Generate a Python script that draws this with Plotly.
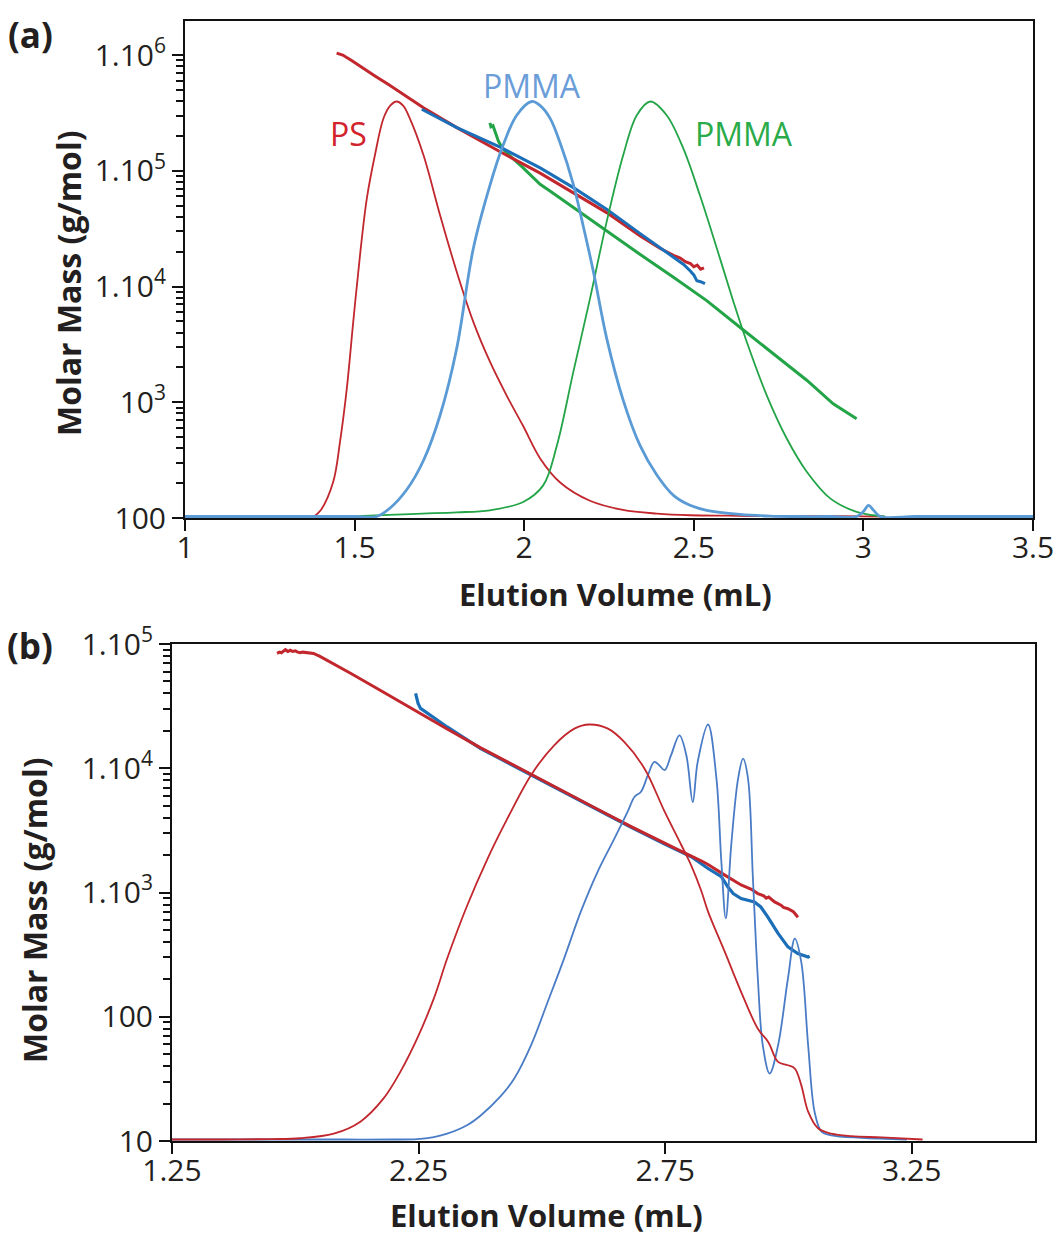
import plotly.graph_objects as go

W, H = 1061, 1247
FONT = "Open Sans"
TXT = "#231f20"

# ---------------- Panel (a) data ----------------
# Detector response (normalised) vs elution volume (mL)
ps_dist_x = [1.38, 1.40, 1.437, 1.457, 1.477, 1.496, 1.516, 1.536, 1.560, 1.585, 1.605, 1.624, 1.643,
             1.663, 1.703, 1.752, 1.801, 1.850, 1.899, 1.948, 1.997, 2.047, 2.106, 2.194, 2.291,
             2.391, 2.489, 2.60, 2.70, 2.80, 2.90, 3.00, 3.06]
ps_dist_s = [0, 0.015, 0.084, 0.18, 0.308, 0.469, 0.63, 0.766, 0.871, 0.959, 0.99, 1.0, 0.99,
             0.959, 0.871, 0.726, 0.59, 0.469, 0.373, 0.292, 0.218, 0.14, 0.082, 0.038, 0.016,
             0.007, 0.003, 0.002, 0.001, 0.001, 0.001, 0.0005, 0]

pmma1_dist_x = [1.0, 1.1, 1.2, 1.3, 1.4, 1.5, 1.565, 1.604, 1.654, 1.703, 1.752, 1.801, 1.850,
                1.899, 1.938, 1.978, 2.022, 2.047, 2.076, 2.106, 2.145, 2.174, 2.204, 2.243, 2.292,
                2.341, 2.391, 2.440, 2.489, 2.538, 2.636, 2.725, 2.80, 2.90, 2.980, 3.000, 3.015,
                3.030, 3.050, 3.15, 3.25, 3.35, 3.5]
pmma1_dist_s = [0, 0, 0, 0, 0, 0, 0, 0.02, 0.065, 0.135, 0.244, 0.405, 0.646,
                0.798, 0.895, 0.967, 1.0, 0.99, 0.96, 0.90, 0.80, 0.70, 0.59, 0.43, 0.28,
                0.172, 0.10, 0.051, 0.027, 0.015, 0.005, 0.001, 0, 0, 0, 0.012, 0.027,
                0.015, 0, 0, 0, 0, 0]

pmma2_dist_x = [1.49, 1.60, 1.70, 1.801, 1.899, 1.997, 2.056, 2.096, 2.145, 2.194, 2.243, 2.292,
                2.332, 2.372, 2.420, 2.469, 2.518, 2.568, 2.617, 2.656, 2.715, 2.774, 2.833,
                2.903, 2.980, 3.029, 3.064]
pmma2_dist_s = [0, 0.004, 0.007, 0.01, 0.015, 0.035, 0.075, 0.17, 0.349, 0.525, 0.71, 0.871,
                0.967, 1.0, 0.967, 0.887, 0.774, 0.646, 0.517, 0.421, 0.292, 0.188, 0.108,
                0.043, 0.011, 0.003, 0]

# Molar mass (g/mol) vs elution volume
ps_mm_x = [1.447, 1.465, 1.49, 1.52, 1.56, 1.60, 1.65, 1.703, 1.80, 1.929, 2.047, 2.145, 2.243,
           2.341, 2.40, 2.44, 2.46, 2.475, 2.49, 2.50, 2.51, 2.52, 2.53]
ps_mm_m = [1.04e6, 1.0e6, 9.0e5, 7.85e5, 6.6e5, 5.56e5, 4.42e5, 3.5e5, 2.37e5, 1.46e5, 9.55e4,
           6.46e4, 4.35e4, 2.75e4, 2.14e4, 1.86e4, 1.76e4, 1.64e4, 1.58e4, 1.48e4, 1.53e4,
           1.41e4, 1.45e4]

pmma1_mm_x = [1.698, 1.75, 1.80, 1.929, 2.047, 2.145, 2.243, 2.341, 2.44, 2.47, 2.489, 2.50,
              2.509, 2.52, 2.533]
pmma1_mm_m = [3.4e5, 2.85e5, 2.37e5, 1.6e5, 1.06e5, 7.15e4, 4.66e4, 2.88e4, 1.8e4, 1.55e4,
              1.37e4, 1.26e4, 1.12e4, 1.1e4, 1.06e4]

pmma2_mm_x = [1.899, 1.902, 1.908, 1.914, 1.919, 1.924, 1.935, 1.948, 1.997, 2.047, 2.076, 2.145,
              2.243, 2.341, 2.440, 2.538, 2.636, 2.734, 2.833, 2.911, 2.94, 2.960, 2.980]
pmma2_mm_m = [2.59e5, 2.4e5, 2.45e5, 2.14e5, 2.0e5, 1.8e5, 1.58e5, 1.43e5, 1.06e5, 7.64e4,
              6.68e4, 4.8e4, 3.03e4, 1.9e4, 1.2e4, 7.55e3, 4.45e3, 2.62e3, 1.55e3, 9.7e2,
              8.5e2, 7.9e2, 7.2e2]

# ---------------- Panel (b) data ----------------
ps_b_dist_x = [1.75, 1.85, 1.95, 2.010, 2.078, 2.132, 2.179, 2.213, 2.247, 2.281, 2.308, 2.349,
               2.390, 2.430, 2.478, 2.525, 2.566, 2.596, 2.634, 2.667, 2.708, 2.749, 2.783, 2.803,
               2.823, 2.837, 2.871, 2.904, 2.938, 2.959, 2.979, 2.999, 3.013, 3.026, 3.040, 3.060,
               3.087, 3.128, 3.189, 3.272]
ps_b_dist_s = [0, 0, 0.001, 0.003, 0.014, 0.043, 0.099, 0.163, 0.243, 0.34, 0.436, 0.565,
               0.677, 0.773, 0.878, 0.95, 0.99, 1.0, 0.99, 0.958, 0.894, 0.79, 0.709, 0.66,
               0.60, 0.549, 0.452, 0.356, 0.267, 0.235, 0.187, 0.179, 0.171, 0.131, 0.067, 0.027,
               0.014, 0.008, 0.005, 0]

pmma_b_dist_x = [1.75, 1.90, 2.00, 2.10, 2.20, 2.247, 2.281, 2.308, 2.349, 2.376, 2.417, 2.444,
                 2.478, 2.512, 2.545, 2.579, 2.613, 2.647, 2.674, 2.688, 2.701, 2.715, 2.728,
                 2.738, 2.749, 2.762, 2.779, 2.793, 2.806, 2.816, 2.837, 2.854, 2.864, 2.873,
                 2.884, 2.898, 2.908, 2.918, 2.928, 2.938, 2.948, 2.962, 2.979, 2.999, 3.013,
                 3.026, 3.040, 3.053, 3.067, 3.087, 3.148, 3.240]
pmma_b_dist_s = [0, 0, 0, 0, 0, 0.001, 0.006, 0.014, 0.035, 0.058, 0.105, 0.147,
                 0.227, 0.332, 0.436, 0.549, 0.645, 0.725, 0.79, 0.826, 0.838, 0.878, 0.91,
                 0.902, 0.89, 0.926, 0.974, 0.926, 0.813, 0.91, 1.0, 0.87, 0.669, 0.533,
                 0.709, 0.87, 0.918, 0.87, 0.629, 0.388, 0.227, 0.159, 0.227, 0.388, 0.484,
                 0.428, 0.227, 0.067, 0.019, 0.01, 0.004, 0]

ps_b_mm_x = [1.963, 1.968, 1.972, 1.976, 1.980, 1.985, 1.990, 1.995, 2.000, 2.005, 2.010, 2.015,
             2.020, 2.027, 2.037, 2.050, 2.064, 2.112, 2.173, 2.240, 2.308, 2.376, 2.444, 2.481,
             2.545, 2.613, 2.681, 2.749, 2.783, 2.823, 2.837, 2.871, 2.904, 2.925, 2.938, 2.950,
             2.955, 2.960, 2.972, 2.985, 2.990, 2.999, 3.010, 3.016, 3.019]
ps_b_mm_m = [8.4e4, 8.6e4, 8.5e4, 8.8e4, 9.0e4, 8.7e4, 8.9e4, 8.7e4, 8.8e4, 8.6e4, 8.5e4, 8.6e4,
             8.55e4, 8.4e4, 8.4e4, 7.94e4, 7.41e4, 5.82e4, 4.22e4, 2.95e4, 2.07e4, 1.46e4,
             1.05e4, 8.8e3, 6.46e3, 4.68e3, 3.39e3, 2.48e3, 2.14e3, 1.8e3, 1.68e3, 1.38e3,
             1.15e3, 1.06e3, 9.8e2, 9.4e2, 9.0e2, 9.2e2, 8.4e2, 7.9e2, 7.6e2, 7.4e2, 7.0e2,
             6.56e2, 6.3e2]

pmma_b_mm_x = [2.244, 2.246, 2.249, 2.254, 2.268, 2.288, 2.308, 2.376, 2.444, 2.545, 2.613, 2.681,
               2.749, 2.803, 2.837, 2.864, 2.877, 2.888, 2.904, 2.931, 2.944, 2.958, 2.979,
               2.999, 3.019, 3.040, 3.043]
pmma_b_mm_m = [4.0e4, 3.65e4, 3.33e4, 3.03e4, 2.76e4, 2.44e4, 2.15e4, 1.44e4, 1.04e4, 6.38e3,
               4.62e3, 3.35e3, 2.45e3, 1.94e3, 1.56e3, 1.34e3, 1.11e3, 9.8e2, 8.95e2, 8.4e2,
               7.65e2, 6.37e2, 4.68e2, 3.65e2, 3.23e2, 3.03e2, 3.07e2]

# tick labels
a_xticks = [1, 1.5, 2, 2.5, 3, 3.5]
a_xticktext = ["1", "1.5", "2", "2.5", "3", "3.5"]
a_yticks = [1e2, 1e3, 1e4, 1e5, 1e6]
a_yticktext = ["100", "10<sup>3</sup>", "1.10<sup>4</sup>", "1.10<sup>5</sup>", "1.10<sup>6</sup>"]
b_xticks = [1.75, 2.25, 2.75, 3.25]
b_xticktext = ["1.25", "2.25", "2.75", "3.25"]
b_yticks = [1e1, 1e2, 1e3, 1e4, 1e5]
b_yticktext = ["10", "100", "1.10<sup>3</sup>", "1.10<sup>4</sup>", "1.10<sup>5</sup>"]

a_minor = [k * 10 ** d for d in range(2, 6) for k in range(2, 10)]
b_minor = [k * 10 ** d for d in range(1, 5) for k in range(2, 10)]

# colours
RED = "#c1272d"
BLUE_L = "#5b9bd5"
BLUE_D = "#1b6fb8"
GREEN = "#22a447"
BLUE_B = "#4a7cc6"

SM = 1.0
fig = go.Figure()

# panel (a) distributions (linear hidden axis y3)
fig.add_trace(go.Scatter(x=ps_dist_x, y=ps_dist_s, xaxis="x", yaxis="y3", mode="lines",
                         line=dict(color=RED, width=1.8, shape="spline", smoothing=SM)))
fig.add_trace(go.Scatter(x=pmma2_dist_x, y=pmma2_dist_s, xaxis="x", yaxis="y3", mode="lines",
                         line=dict(color=GREEN, width=1.8, shape="spline", smoothing=SM)))
fig.add_trace(go.Scatter(x=pmma1_dist_x, y=pmma1_dist_s, xaxis="x", yaxis="y3", mode="lines",
                         line=dict(color=BLUE_L, width=2.8, shape="spline", smoothing=SM)))
# panel (a) molar mass
fig.add_trace(go.Scatter(x=pmma2_mm_x, y=pmma2_mm_m, xaxis="x", yaxis="y", mode="lines",
                         line=dict(color=GREEN, width=3)))
fig.add_trace(go.Scatter(x=ps_mm_x, y=ps_mm_m, xaxis="x", yaxis="y", mode="lines",
                         line=dict(color=RED, width=3)))
fig.add_trace(go.Scatter(x=pmma1_mm_x, y=pmma1_mm_m, xaxis="x", yaxis="y", mode="lines",
                         line=dict(color=BLUE_D, width=3)))

# panel (b) distributions (hidden axis y4)
fig.add_trace(go.Scatter(x=pmma_b_dist_x, y=pmma_b_dist_s, xaxis="x2", yaxis="y4", mode="lines",
                         line=dict(color=BLUE_B, width=1.8, shape="spline", smoothing=SM)))
fig.add_trace(go.Scatter(x=ps_b_dist_x, y=ps_b_dist_s, xaxis="x2", yaxis="y4", mode="lines",
                         line=dict(color=RED, width=1.8, shape="spline", smoothing=SM)))
# panel (b) molar mass
fig.add_trace(go.Scatter(x=pmma_b_mm_x, y=pmma_b_mm_m, xaxis="x2", yaxis="y2", mode="lines",
                         line=dict(color=BLUE_D, width=3.2)))
fig.add_trace(go.Scatter(x=ps_b_mm_x, y=ps_b_mm_m, xaxis="x2", yaxis="y2", mode="lines",
                         line=dict(color=RED, width=3)))

tickfont = dict(family=FONT, size=30, color=TXT)
common_x = dict(showgrid=False, zeroline=False, showline=True, linecolor="#111", linewidth=2,
                mirror=True, ticks="outside", ticklen=11, tickwidth=1.5, tickcolor="#111",
                tickfont=tickfont, tickmode="array", layer="below traces", automargin=False,
                ticklabelstandoff=-9)
common_y = dict(showgrid=False, zeroline=False, showline=True, linecolor="#111", linewidth=2,
                mirror=True, ticks="outside", ticklen=11, tickwidth=1.5, tickcolor="#111",
                tickfont=tickfont, tickmode="array", type="log", automargin=False)

def px(x):
    return x / W

def py(y):
    return 1 - y / H

DIST_RANGE = [-0.0036, 1.194]

fig.update_layout(
    template="none",
    width=W, height=H, margin=dict(l=0, r=0, t=0, b=0, pad=0), autosize=False,
    paper_bgcolor="white", plot_bgcolor="white", showlegend=False,
    font=dict(family=FONT, color=TXT),
    xaxis=dict(domain=[px(185), px(1033)], anchor="y", range=[1, 3.5],
               tickvals=a_xticks, ticktext=a_xticktext, **common_x),
    yaxis=dict(domain=[py(518), py(21)], anchor="x", range=[2, 6.294],
               tickvals=a_yticks, ticktext=a_yticktext,
               minor=dict(tickmode="array", tickvals=a_minor, ticks="outside", ticklen=7,
                          tickwidth=1.5, tickcolor="#111", showgrid=False),
               **common_y),
    yaxis3=dict(overlaying="y", anchor="x", range=DIST_RANGE, visible=False, automargin=False),
    xaxis2=dict(domain=[px(172), px(1035)], anchor="y2", range=[1.75, 3.5],
                tickvals=b_xticks, ticktext=b_xticktext, **common_x),
    yaxis2=dict(domain=[py(1141), py(644)], anchor="x2", range=[1, 5.0],
                tickvals=b_yticks, ticktext=b_yticktext,
                minor=dict(tickmode="array", tickvals=b_minor, ticks="outside", ticklen=7,
                           tickwidth=1.5, tickcolor="#111", showgrid=False),
                **common_y),
    yaxis4=dict(overlaying="y2", anchor="x2", range=DIST_RANGE, visible=False, automargin=False),
)

annots = [
    dict(text="<b>(a)</b>", x=px(30), y=py(35), size=35, color=TXT, angle=0),
    dict(text="<b>(b)</b>", x=px(30), y=py(645), size=35, color=TXT, angle=0),
    dict(text="<b>Elution Volume (mL)</b>", x=px(615), y=py(594), size=31, color=TXT, angle=0),
    dict(text="<b>Elution Volume (mL)</b>", x=px(546), y=py(1215), size=31, color=TXT, angle=0),
    dict(text="<b>Molar Mass (g/mol)</b>", x=px(68), y=py(283), size=32, color=TXT, angle=-90),
    dict(text="<b>Molar Mass (g/mol)</b>", x=px(34), y=py(910), size=32, color=TXT, angle=-90),
    dict(text="PS", x=px(348), y=py(133), size=32, color="#d2232a", angle=0),
    dict(text="PMMA", x=px(532), y=py(85), size=32, color="#6b9dd8", angle=0),
    dict(text="PMMA", x=px(744), y=py(133), size=32, color="#2aab4a", angle=0),
]
for a in annots:
    fig.add_annotation(text=a["text"], x=a["x"], y=a["y"], xref="paper", yref="paper",
                       xanchor="center", yanchor="middle", showarrow=False,
                       textangle=a["angle"],
                       font=dict(family=FONT, size=a["size"], color=a["color"]))

fig.write_html("out.html")
